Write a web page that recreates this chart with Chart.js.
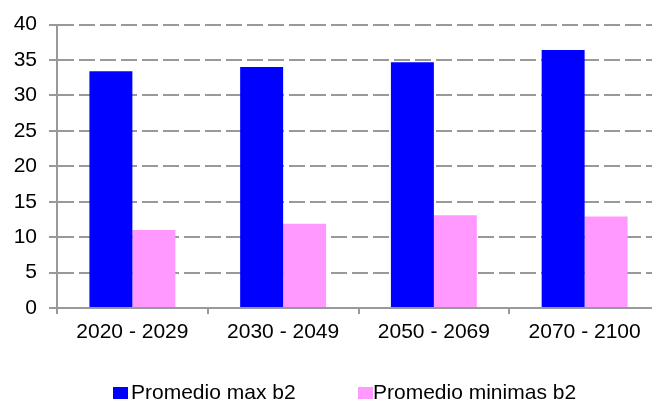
<!DOCTYPE html>
<html>
<head>
<meta charset="utf-8">
<script src="https://cdn.jsdelivr.net/npm/chart.js"></script>
<style>
  body { margin: 0; background: #fff; width: 652px; height: 401px; overflow: hidden; position: relative; }
  #grafico { position: absolute; left: 0; top: 0; }
  .leyenda { position: absolute; top: 381px; font: 21px "Liberation Sans", Arial, sans-serif; line-height: 21px; color: #000; white-space: nowrap; }
  .caja { position: absolute; top: 387px; width: 15px; height: 12px; }
</style>
</head>
<body>
<canvas id="grafico" width="660" height="401"></canvas>
<div class="caja" id="caja0" style="left:113px"></div>
<div class="leyenda" id="ley0" style="left:131px"></div>
<div class="caja" id="caja1" style="left:358px"></div>
<div class="leyenda" id="ley1" style="left:373px"></div>
<script>
const periodos = ['2020 - 2029', '2030 - 2049', '2050 - 2069', '2070 - 2100'];
const promedioMax = [33.4, 34.0, 34.7, 36.4];
const promedioMin = [11.0, 11.9, 13.1, 12.9];
const nombres = ['Promedio max b2', 'Promedio minimas b2'];
const colores = ['#0000FF', '#FF99FF'];
const yMin = 0;
const yMax = 40;
const yPaso = 5;

const gris = '#999999';
const fuente = { family: '"Liberation Sans", Arial, sans-serif', size: 21 };

// leyenda en html, igual que la del original
for (var i = 0; i < nombres.length; i++) {
  document.getElementById('caja' + i).style.background = colores[i];
  document.getElementById('ley' + i).textContent = nombres[i];
}

const data = {
  labels: periodos,
  datasets: [{
    label: nombres[0],
    data: promedioMax,
    backgroundColor: colores[0],
    barPercentage: 1,
    categoryPercentage: 0.57
  }, {
    label: nombres[1],
    data: promedioMin,
    backgroundColor: colores[1],
    barPercentage: 1,
    categoryPercentage: 0.57
  }]
};

const config = {
  type: 'bar',
  data: data,
  options: {
    responsive: false,
    animation: false,
    devicePixelRatio: 1,
    layout: { padding: { top: 23, right: 0, left: 0, bottom: 0 } },
    plugins: {
      legend: { display: false },
      tooltip: { enabled: false }
    },
    scales: {
      x: {
        afterFit: function (scale) { scale.height = 93; },
        grid: { drawOnChartArea: false, drawTicks: true, tickLength: 6, color: gris, lineWidth: 2 },
        border: { color: gris, width: 2 },
        ticks: { color: '#000', font: fuente, padding: 6 }
      },
      y: {
        min: yMin,
        max: yMax,
        afterFit: function (scale) { scale.width = 57; },
        grid: { color: gris, lineWidth: 2, tickLength: 8, tickBorderDash: [] },
        border: { color: gris, width: 2, dash: [16, 5] },
        ticks: { stepSize: yPaso, color: '#000', font: fuente, padding: 12 }
      }
    }
  }
};

const graficoPromedios = new Chart(
  document.getElementById('grafico'),
  config
);
</script>
</body>
</html>
